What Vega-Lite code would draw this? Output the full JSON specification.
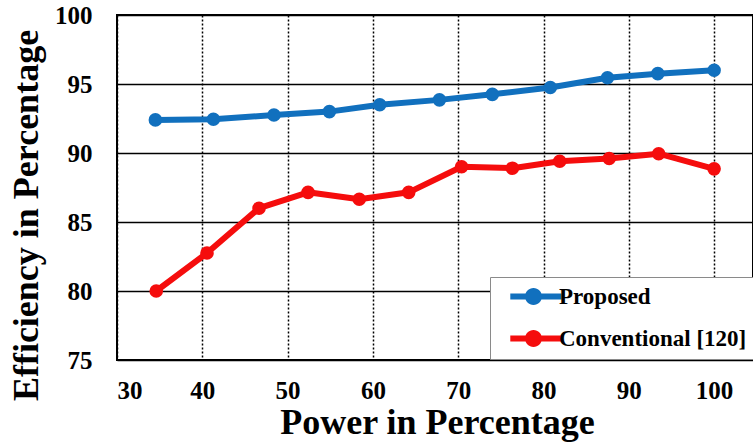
{
  "$schema": "https://vega.github.io/schema/vega-lite/v6.json",
  "width": 636,
  "height": 345,
  "autosize": {"type": "none"},
  "padding": {"left": 117, "top": 15, "right": 0, "bottom": 85},
  "background": "white",
  "config": {
    "view": {"stroke": "black", "strokeWidth": 2},
    "font": "Liberation Serif",
    "legend": {
      "labelFont": "Liberation Serif",
      "labelFontWeight": "bold",
      "labelFontSize": 23,
      "labelColor": "black"
    }
  },
  "data": {
    "values": [
      {"series": "Proposed", "power": 34.5, "eff": 92.4},
      {"series": "Proposed", "power": 41.3, "eff": 92.45},
      {"series": "Proposed", "power": 48.4, "eff": 92.75},
      {"series": "Proposed", "power": 54.9, "eff": 93.0},
      {"series": "Proposed", "power": 60.8, "eff": 93.5},
      {"series": "Proposed", "power": 67.8, "eff": 93.85},
      {"series": "Proposed", "power": 74.0, "eff": 94.25},
      {"series": "Proposed", "power": 80.8, "eff": 94.75},
      {"series": "Proposed", "power": 87.5, "eff": 95.45},
      {"series": "Proposed", "power": 93.4, "eff": 95.75},
      {"series": "Proposed", "power": 100, "eff": 96.0},
      {"series": "Conventional [120]", "power": 34.6, "eff": 80.0},
      {"series": "Conventional [120]", "power": 40.55, "eff": 82.75},
      {"series": "Conventional [120]", "power": 46.65, "eff": 86.0},
      {"series": "Conventional [120]", "power": 52.4, "eff": 87.15},
      {"series": "Conventional [120]", "power": 58.4, "eff": 86.65},
      {"series": "Conventional [120]", "power": 64.2, "eff": 87.15},
      {"series": "Conventional [120]", "power": 70.4, "eff": 89.0},
      {"series": "Conventional [120]", "power": 76.35, "eff": 88.9},
      {"series": "Conventional [120]", "power": 81.9, "eff": 89.4},
      {"series": "Conventional [120]", "power": 87.7, "eff": 89.6},
      {"series": "Conventional [120]", "power": 93.5, "eff": 89.95},
      {"series": "Conventional [120]", "power": 100, "eff": 88.85}
    ]
  },
  "encoding": {
    "x": {
      "field": "power",
      "type": "quantitative",
      "scale": {"domain": [30, 104.56], "nice": false, "zero": false},
      "axis": {
        "title": "Power in Percentage",
        "values": [30, 40, 50, 60, 70, 80, 90, 100],
        "domain": false,
        "ticks": false,
        "tickSize": 0,
        "labelPadding": 18,
        "labelFont": "Liberation Serif",
        "labelFontWeight": "bold",
        "labelFontSize": 25,
        "labelColor": "black",
        "grid": true,
        "gridColor": "black",
        "gridWidth": 1.5,
        "gridDash": [2, 2],
        "gridOpacity": 1,
        "titleFont": "Liberation Serif",
        "titleFontWeight": "bold",
        "titleFontSize": 36,
        "titleColor": "black",
        "titleX": 320,
        "titleY": 73,
        "titleAlign": "center",
        "titleBaseline": "alphabetic"
      }
    },
    "y": {
      "field": "eff",
      "type": "quantitative",
      "scale": {"domain": [75, 100], "nice": false, "zero": false},
      "axis": {
        "title": "Efficiency in Percentage",
        "values": [75, 80, 85, 90, 95, 100],
        "domain": false,
        "ticks": false,
        "tickSize": 0,
        "labelPadding": 25,
        "labelFont": "Liberation Serif",
        "labelFontWeight": "bold",
        "labelFontSize": 25,
        "labelColor": "black",
        "grid": true,
        "gridColor": "black",
        "gridWidth": 1.5,
        "gridOpacity": 1,
        "titleFont": "Liberation Serif",
        "titleFontWeight": "bold",
        "titleFontSize": 36,
        "titleColor": "black",
        "titleAngle": 270,
        "titleX": -80,
        "titleY": 200,
        "titleAlign": "center",
        "titleBaseline": "alphabetic"
      }
    }
  },
  "layer": [
    {
      "mark": {"type": "line", "strokeWidth": 6, "strokeJoin": "round"},
      "encoding": {
        "detail": {"field": "series", "type": "nominal"},
        "stroke": {
          "condition": {"test": "datum.series === 'Proposed'", "value": "#1170be"},
          "value": "#f50d0d"
        }
      }
    },
    {
      "mark": {"type": "point", "filled": true, "size": 185, "opacity": 1},
      "encoding": {
        "color": {
          "field": "series",
          "type": "nominal",
          "scale": {"domain": ["Proposed", "Conventional [120]"], "range": ["#1170be", "#f50d0d"]},
          "legend": {
            "title": null,
            "orient": "none",
            "legendX": 373,
            "legendY": 262,
            "fillColor": "white",
            "strokeColor": "#8a8a8a",
            "padding": 8,
            "rowPadding": 18,
            "symbolType": "M0.1,-0.36H6.5V0.36H0.1Z M1.94,0A1.06,1.06 0 1,1 4.06,0A1.06,1.06 0 1,1 1.94,0Z",
            "symbolSize": 256,
            "symbolStrokeWidth": 0,
            "symbolOpacity": 1,
            "labelOffset": 38,
            "labelFont": "Liberation Serif",
            "labelFontWeight": "bold",
            "labelFontSize": 23,
            "labelColor": "black",
            "labelLimit": 300
          }
        }
      }
    }
  ]
}
